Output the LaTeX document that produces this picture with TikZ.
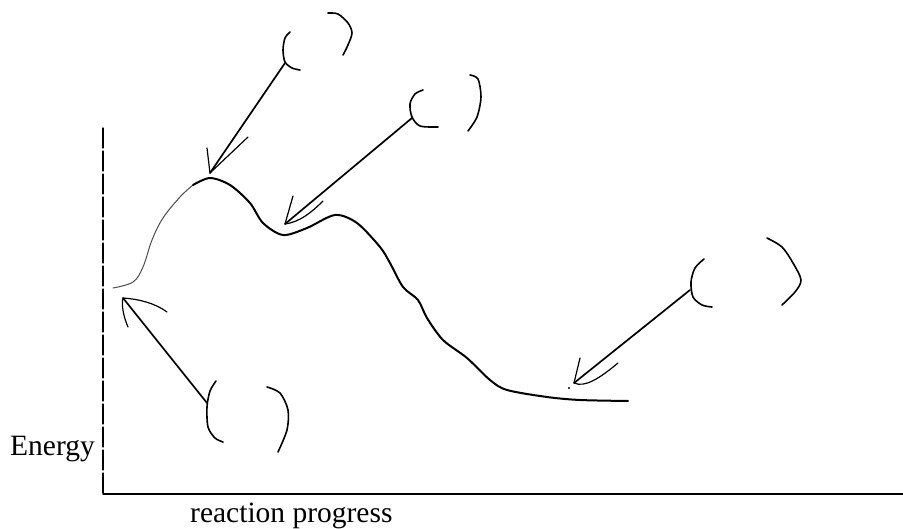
\documentclass[tikz,border=0pt]{standalone}
\usepackage{fontspec}
\setmainfont{Liberation Serif}
\begin{document}
\begin{tikzpicture}[x=1pt,y=-1pt, line cap=round, line join=round,
  curve/.style={line width=2pt},
  faint/.style={line width=1pt, black!70},
  arrowline/.style={line width=1.7pt},
  barb/.style={line width=1.2pt},
  paren/.style={line width=1.6pt},
  lab/.style={font=\fontsize{29.5}{32}\selectfont, inner sep=0pt}]
\useasboundingbox (0,0) rectangle (903,529);
% axes
\coordinate (ytop) at (103,128);
\coordinate (origin) at (103,494);
\coordinate (xend) at (903,494);
\draw[line width=1.2pt, dash pattern=on 20pt off 3pt] (ytop) -- (origin);
\draw[line width=1.5pt] (origin) -- (xend);
% energy curve
\draw[faint] plot[smooth, tension=0.6] coordinates {(113,288) (133,282) (143,267) (152,240) (163,218) (180,197) (193,185)};
\draw[curve] plot[smooth] coordinates {(193,185) (210,178) (230,185) (250,203) (263,223) (283,235) (307,228) (335,215) (357,223) (380,247) (390,263) (403,287) (418,300) (427,318) (443,340) (467,358) (490,380) (507,390) (547,397) (580,400) (628,401)};
% arrow 1 (top)
\coordinate (a1tail) at (285,63);
\coordinate (a1tip) at (210,173);
\coordinate (a1l) at (207,148);
\coordinate (a1r) at (248,137);
\draw[arrowline] (a1tail) -- (a1tip);
\draw[barb] (a1l) -- (a1tip) -- (a1r);
\draw[paren] plot[smooth] coordinates {(290,32) (285,38) (283,50) (285,62) (292,68) (300,70)};
\draw[paren] plot[smooth] coordinates {(328,13) (338,14) (348,23) (352,33) (348,45) (343,55)};
% arrow 2
\coordinate (a2tail) at (412,118);
\coordinate (a2tip) at (285,224);
\coordinate (a2l) at (293,196);
\coordinate (a2r) at (323,201);
\draw[arrowline] (a2tail) -- (a2tip);
\draw[barb] (a2l) -- (a2tip) .. controls (300,222) and (312,212) .. (a2r);
\draw[paren] plot[smooth] coordinates {(423,90) (415,94) (410,104) (412,117) (420,126) (438,127)};
\draw[paren] plot[smooth] coordinates {(470,75) (478,79) (481,97) (477,117) (468,131)};
% arrow 3
\coordinate (a3tail) at (690,290);
\coordinate (a3tip) at (574,383);
\coordinate (a3l) at (580,358);
\coordinate (a3r) at (618,363);
\draw[arrowline] (a3tail) -- (a3tip);
\draw[barb] (a3l) -- (a3tip) .. controls (585,388) and (600,378) .. (a3r);
\fill (569,388) circle (1.2pt);
\draw[paren] plot[smooth] coordinates {(704,259) (695,268) (691,282) (693,297) (702,305) (712,307)};
\draw[paren] plot[smooth] coordinates {(767,238) (782,247) (793,263) (801,280) (795,292) (782,305)};
% arrow 4 (lower left)
\coordinate (a4tail) at (207,403);
\coordinate (a4tip) at (123,298);
\coordinate (a4l) at (128,327);
\coordinate (a4r) at (167,312);
\draw[arrowline] (a4tail) -- (a4tip);
\draw[barb] (a4l) .. controls (124,318) and (121,305) .. (a4tip) .. controls (138,299) and (155,303) .. (a4r);
\draw[paren] plot[smooth] coordinates {(216,381) (210,391) (207,407) (208,427) (215,438) (223,442)};
\draw[paren] plot[smooth] coordinates {(267,387) (280,393) (288,410) (287,430) (278,452)};
% labels
\node[lab, anchor=base east] (energy) at (95,455) {Energy};
\node[lab, anchor=base west] (rp) at (190,522) {reaction progress};
\end{tikzpicture}
\end{document}
